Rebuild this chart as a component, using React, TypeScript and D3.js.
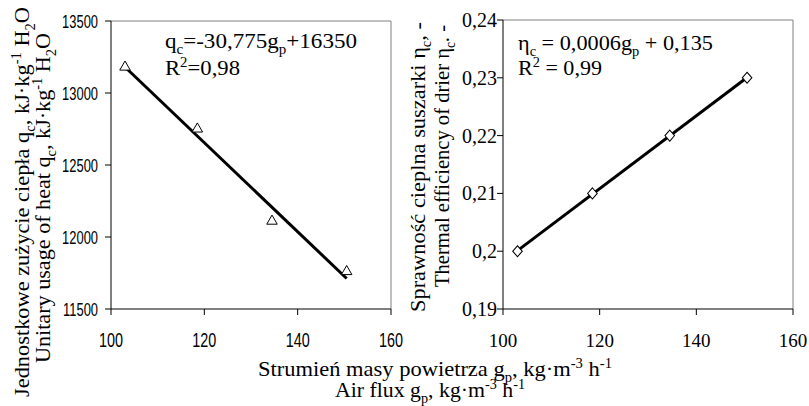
import React from "react";
import * as d3 from "d3";

// air flux g_p [kg m-3 h-1]
const flux = [103, 118.5, 134.5, 150.5];
// unitary usage of heat q_c [kJ kg-1 H2O]
const heatUsage = [13180, 12750, 12110, 11760];
// thermal efficiency of drier
const efficiency = [0.2, 0.21, 0.22, 0.23];

const fluxTicks = [100, 120, 140, 160];
const heatTicks = [11500, 12000, 12500, 13000, 13500];
const effTicks = [0.19, 0.2, 0.21, 0.22, 0.23, 0.24];

const SERIF = "Liberation Serif";
const SANS = "Liberation Sans";

// least squares line through the points
const fit = (xs: number[], ys: number[]) => {
  const mx = d3.mean(xs) as number;
  const my = d3.mean(ys) as number;
  const sxy = d3.sum(xs, (x, i) => (x - mx) * (ys[i] - my));
  const sxx = d3.sum(xs, (x) => (x - mx) * (x - mx));
  return (x: number) => my + (sxy / sxx) * (x - mx);
};

const comma = (v: number) => String(v).replace(".", ",");

type Part = [string, "n" | "sub" | "sup"];

// text with sub/superscripts, stretched to a given length
const Rich = ({ parts, size, len, ...rest }: { parts: Part[]; size: number; len?: number; [k: string]: any }) => {
  let shift = 0;
  return (
    <text
      {...rest}
      style={{ fontFamily: SERIF, fontSize: size }}
      textLength={len}
      lengthAdjust={len ? "spacingAndGlyphs" : undefined}
    >
      {parts.map(([t, kind], i) => {
        const target = kind === "sub" ? size * 0.27 : kind === "sup" ? -size * 0.38 : 0;
        const dy = target - shift;
        shift = target;
        return (
          <tspan key={i} dy={dy} style={{ fontFamily: SERIF, fontSize: kind === "n" ? size : size * 0.65 }}>
            {t}
          </tspan>
        );
      })}
    </text>
  );
};

const xL = d3.scaleLinear().domain([100, 160]).range([111, 391]);
const yL = d3.scaleLinear().domain([11500, 13500]).range([309, 21]);
const xR = d3.scaleLinear().domain([100, 160]).range([503, 793]);
const yR = d3.scaleLinear().domain([0.19, 0.24]).range([309, 20]);

const tri = d3.symbol().type(d3.symbolTriangle).size(48)() as string;
const dia = d3.symbol().type(d3.symbolDiamond).size(55)() as string;

const Frame = ({ x, y }: { x: any; y: any }) => {
  const [x0, x1] = x.range();
  const [y0, y1] = y.range();
  return (
    <g>
      <path d={`M${x0},${y1}H${x1}V${y0}`} fill="none" stroke="#808080" />
      <path d={`M${x0},${y1}V${y0}H${x1}`} fill="none" stroke="#000" />
    </g>
  );
};

const App = () => {
  const lineL = fit(flux, heatUsage);
  const lineR = fit(flux, efficiency);
  const f0 = flux[0];
  const f1 = flux[flux.length - 1];

  return (
    <div style={{ position: "absolute", left: 0, top: 0 }}>
      <svg width={809} height={406} style={{ display: "block", background: "#fff" }}>
        {/* ---------- left chart ---------- */}
        <Frame x={xL} y={yL} />
        {fluxTicks.map((t) => (
          <g key={"lx" + t}>
            <line x1={xL(t)} x2={xL(t)} y1={309} y2={315} stroke="#000" />
            <text
              transform={`translate(${xL(t)},347) scale(0.72,1)`}
              textAnchor="middle"
              style={{ fontFamily: SANS, fontSize: 20 }}
            >
              {t}
            </text>
          </g>
        ))}
        {heatTicks.map((t) => (
          <g key={"ly" + t}>
            <line x1={105} x2={111} y1={yL(t)} y2={yL(t)} stroke="#000" />
            <text
              transform={`translate(98,${yL(t) + 6.5}) scale(0.68,1)`}
              textAnchor="end"
              style={{ fontFamily: SANS, fontSize: 19 }}
            >
              {t}
            </text>
          </g>
        ))}
        <line
          x1={xL(f0)}
          y1={yL(lineL(f0))}
          x2={xL(f1)}
          y2={yL(lineL(f1))}
          stroke="#000"
          strokeWidth={3}
        />
        {flux.map((d, i) => (
          <path
            key={"tp" + i}
            d={tri}
            transform={`translate(${xL(d)},${yL(heatUsage[i])})`}
            fill="#fff"
            stroke="#000"
          />
        ))}
        <Rich
          x={165}
          y={48}
          size={22}
          len={192}
          parts={[["q", "n"], ["c", "sub"], ["=-30,775g", "n"], ["p", "sub"], ["+16350", "n"]]}
        />
        <Rich x={165} y={75} size={22} len={75} parts={[["R", "n"], ["2", "sup"], ["=0,98", "n"]]} />

        <Rich
          transform="translate(29,202) rotate(-90)"
          textAnchor="middle"
          size={22}
          len={390}
          parts={[
            ["Jednostkowe zużycie ciepła q", "n"],
            ["c", "sub"],
            [", kJ·kg", "n"],
            ["-1", "sup"],
            [" H", "n"],
            ["2", "sub"],
            ["O", "n"],
          ]}
        />
        <Rich
          transform="translate(50,198) rotate(-90)"
          textAnchor="middle"
          size={22}
          len={330}
          parts={[
            ["Unitary usage of heat q", "n"],
            ["c", "sub"],
            [", kJ·kg", "n"],
            ["-1", "sup"],
            [" H", "n"],
            ["2", "sub"],
            ["O", "n"],
          ]}
        />

        {/* ---------- right chart ---------- */}
        <Frame x={xR} y={yR} />
        {fluxTicks.map((t) => (
          <g key={"rx" + t}>
            <line x1={xR(t)} x2={xR(t)} y1={309} y2={315} stroke="#000" />
            <text x={xR(t)} y={347} textAnchor="middle" style={{ fontFamily: SERIF, fontSize: 19 }}>
              {t}
            </text>
          </g>
        ))}
        {effTicks.map((t) => (
          <g key={"ry" + t}>
            <line x1={497} x2={503} y1={yR(t)} y2={yR(t)} stroke="#000" />
            <text x={497} y={yR(t) + 7} textAnchor="end" style={{ fontFamily: SERIF, fontSize: 20 }}>
              {comma(t)}
            </text>
          </g>
        ))}
        <line
          x1={xR(f0)}
          y1={yR(lineR(f0))}
          x2={xR(f1)}
          y2={yR(lineR(f1))}
          stroke="#000"
          strokeWidth={3}
        />
        {flux.map((d, i) => (
          <path
            key={"dp" + i}
            d={dia}
            transform={`translate(${xR(d)},${yR(efficiency[i])}) scale(1.2,0.8)`}
            fill="#fff"
            stroke="#000"
          />
        ))}
        <Rich
          x={518}
          y={50}
          size={22}
          len={195}
          parts={[["η", "n"], ["c", "sub"], [" = 0,0006g", "n"], ["p", "sub"], [" + 0,135", "n"]]}
        />
        <Rich x={518} y={75} size={22} len={84} parts={[["R", "n"], ["2", "sup"], [" = 0,99", "n"]]} />

        <Rich
          transform="translate(425,167) rotate(-90)"
          textAnchor="middle"
          size={22}
          len={290}
          parts={[["Sprawność cieplna suszarki η", "n"], ["c", "sub"], [", -", "n"]]}
        />
        <Rich
          transform="translate(449,156) rotate(-90)"
          textAnchor="middle"
          size={22}
          len={262}
          parts={[["Thermal efficiency of drier η", "n"], ["c", "sub"], [". -", "n"]]}
        />

        {/* ---------- shared x title ---------- */}
        <Rich
          x={435}
          y={376}
          textAnchor="middle"
          size={22}
          len={354}
          parts={[
            ["Strumień masy powietrza g", "n"],
            ["p", "sub"],
            [", kg·m", "n"],
            ["-3", "sup"],
            [" h", "n"],
            ["-1", "sup"],
          ]}
        />
        <Rich
          x={430}
          y={397}
          textAnchor="middle"
          size={22}
          len={190}
          parts={[["Air flux g", "n"], ["p", "sub"], [", kg·m", "n"], ["-3", "sup"], [" h", "n"], ["-1", "sup"]]}
        />
      </svg>
    </div>
  );
};

export default App;
